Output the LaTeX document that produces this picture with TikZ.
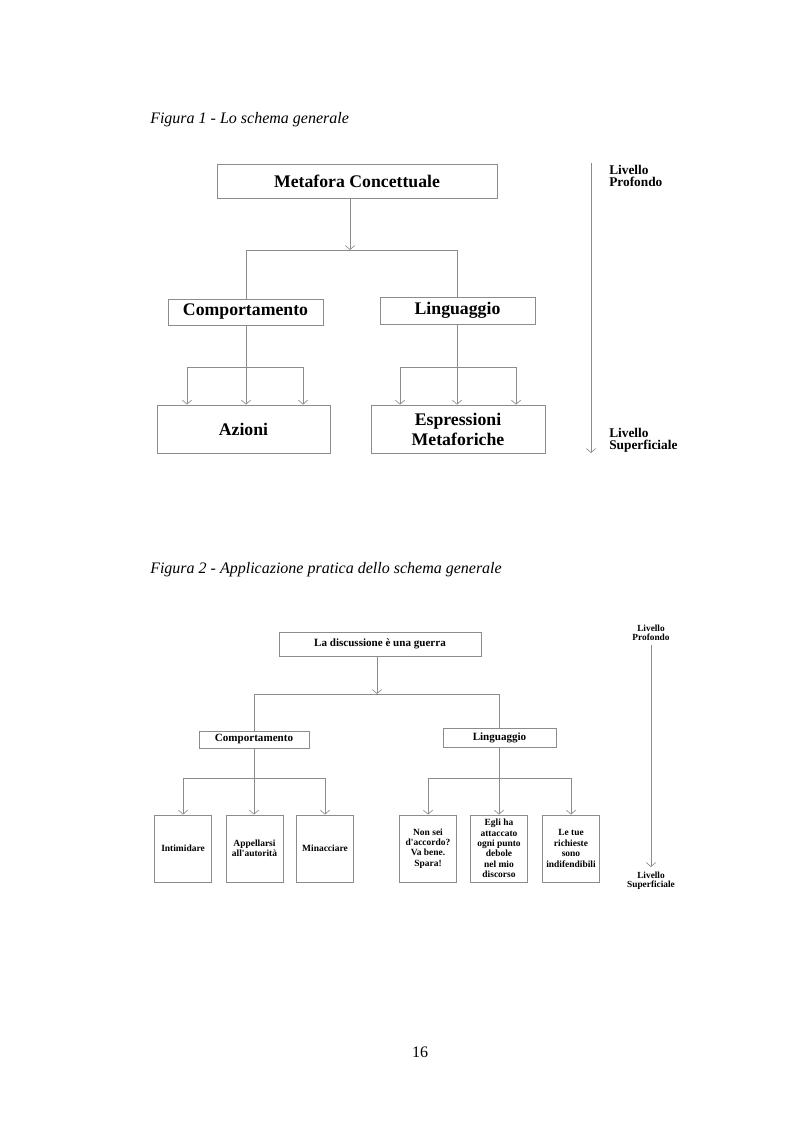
\documentclass[tikz,border=0pt]{standalone}
\usepackage{fontspec}
\setmainfont{Liberation Serif}
\usetikzlibrary{arrows.meta}
\definecolor{ln}{gray}{0.55}
\tikzset{
  conn/.style={draw=ln, line width=0.6pt},
  arr/.style={conn, -{Straight Barb[length=3pt,width=7pt,line width=0.5pt]}},
  bx/.style 2 args={draw=ln, line width=0.6pt, minimum width=#1*0.75pt, minimum height=#2*0.75pt, inner sep=0pt, align=center},
  big/.style={font=\fontsize{13.3}{15}\selectfont\bfseries},
  mid/.style={font=\fontsize{8.3}{9.5}\selectfont\bfseries},
  sml/.style={font=\fontsize{7.1}{7.8}\selectfont\bfseries},
  lv1/.style={font=\fontsize{10}{8.8}\selectfont\bfseries, inner sep=0pt, align=left, anchor=north west},
  lv2/.style={font=\fontsize{7}{6.5}\selectfont\bfseries, inner sep=0pt, align=center, anchor=north},
  ttl/.style={font=\fontsize{12}{14}\selectfont\itshape, inner sep=0pt, anchor=base west}
}
\begin{document}
\begin{tikzpicture}[x=0.75pt,y=-0.75pt]
\useasboundingbox (0,0) rectangle (793,1123);
% ---------- Figura 1 ----------
\node[ttl] (t1) at (150,124) {Figura 1 - Lo schema generale};
\node[bx={280}{34}, big] (m1) at (357,181) {Metafora Concettuale};
\node[bx={155}{26}, big] (c1) at (245.5,312) {Comportamento};
\node[bx={155}{27}, big] (l1) at (457.5,310.5) {Linguaggio};
\node[bx={173}{48}, big] (a1) at (243.5,429) {Azioni};
\node[bx={174}{48}, big] (e1) at (458,429) {Espressioni\\Metaforiche};
\coordinate (j1) at (350,250);
\coordinate (h1l) at (246,250);
\coordinate (h1r) at (457,250);
\draw[arr] (m1.south -| j1) -- (j1);
\draw[conn] (h1l) -- (h1r);
\draw[conn] (h1l) -- (c1.north -| h1l);
\draw[conn] (h1r) -- (l1.north -| h1r);
% Comportamento branch
\coordinate (ca) at (187,367);
\coordinate (cb) at (246,367);
\coordinate (cc) at (303,367);
\draw[conn] (c1.south -| cb) -- (cb);
\draw[conn] (ca) -- (cc);
\draw[arr] (ca) -- (a1.north -| ca);
\draw[arr] (cb) -- (a1.north -| cb);
\draw[arr] (cc) -- (a1.north -| cc);
% Linguaggio branch
\coordinate (la) at (400,367);
\coordinate (lb) at (457,367);
\coordinate (lc) at (516,367);
\draw[conn] (l1.south -| lb) -- (lb);
\draw[conn] (la) -- (lc);
\draw[arr] (la) -- (e1.north -| la);
\draw[arr] (lb) -- (e1.north -| lb);
\draw[arr] (lc) -- (e1.north -| lc);
% level arrow
\node[lv1] (p1) at (609,165) {Livello\\Profondo};
\node[lv1] (s1) at (609,428) {Livello\\Superficiale};
\coordinate (r1t) at (591,163);
\coordinate (r1b) at (591,453);
\draw[arr] (r1t) -- (r1b);
% ---------- Figura 2 ----------
\node[ttl] (t2) at (150,573) {Figura 2 - Applicazione pratica dello schema generale};
\node[bx={202}{24}, mid] (m2) at (380,644) {La discussione è una guerra};
\node[bx={110}{17}, mid] (c2) at (254,739.5) {Comportamento};
\node[bx={113}{19}, mid] (l2) at (499.5,737.5) {Linguaggio};
\coordinate (j2) at (377,694);
\coordinate (h2l) at (254,694);
\coordinate (h2r) at (499,694);
\draw[arr] (m2.south -| j2) -- (j2);
\draw[conn] (h2l) -- (h2r);
\draw[conn] (h2l) -- (c2.north -| h2l);
\draw[conn] (h2r) -- (l2.north -| h2r);
% leaf boxes
\node[bx={57}{67}, sml] (b1) at (183,848.5) {Intimidare};
\node[bx={57}{67}, sml] (b2) at (254.5,848.5) {Appellarsi\\all\textquotesingle autorità};
\node[bx={57}{67}, sml] (b3) at (325,848.5) {Minacciare};
\node[bx={57}{67}, sml] (b4) at (428,848.5) {Non sei\\d\textquotesingle accordo?\\Va bene.\\Spara!};
\node[bx={57}{67}, sml] (b5) at (499,848.5) {Egli ha\\attaccato\\ogni punto\\debole\\nel mio\\discorso};
\node[bx={57}{67}, sml] (b6) at (571,848.5) {Le tue\\richieste\\sono\\indifendibili};
% Comportamento branch
\coordinate (da) at (183,778);
\coordinate (db) at (254,778);
\coordinate (dc) at (325,778);
\draw[conn] (c2.south -| db) -- (db);
\draw[conn] (da) -- (dc);
\draw[arr] (da) -- (b1.north);
\draw[arr] (db) -- (b2.north -| db);
\draw[arr] (dc) -- (b3.north);
% Linguaggio branch
\coordinate (ea) at (428,778);
\coordinate (eb) at (499,778);
\coordinate (ec) at (571,778);
\draw[conn] (l2.south -| eb) -- (eb);
\draw[conn] (ea) -- (ec);
\draw[arr] (ea) -- (b4.north);
\draw[arr] (eb) -- (b5.north);
\draw[arr] (ec) -- (b6.north);
% level arrow
\node[lv2] (p2) at (651,625) {Livello\\Profondo};
\node[lv2] (s2) at (651,872) {Livello\\Superficiale};
\coordinate (r2t) at (651,645);
\coordinate (r2b) at (651,867);
\draw[arr] (r2t) -- (r2b);
% page number
\node[font=\fontsize{12}{14}\selectfont, inner sep=0pt, anchor=base] (pg) at (420,1057) {16};
\end{tikzpicture}
\end{document}
